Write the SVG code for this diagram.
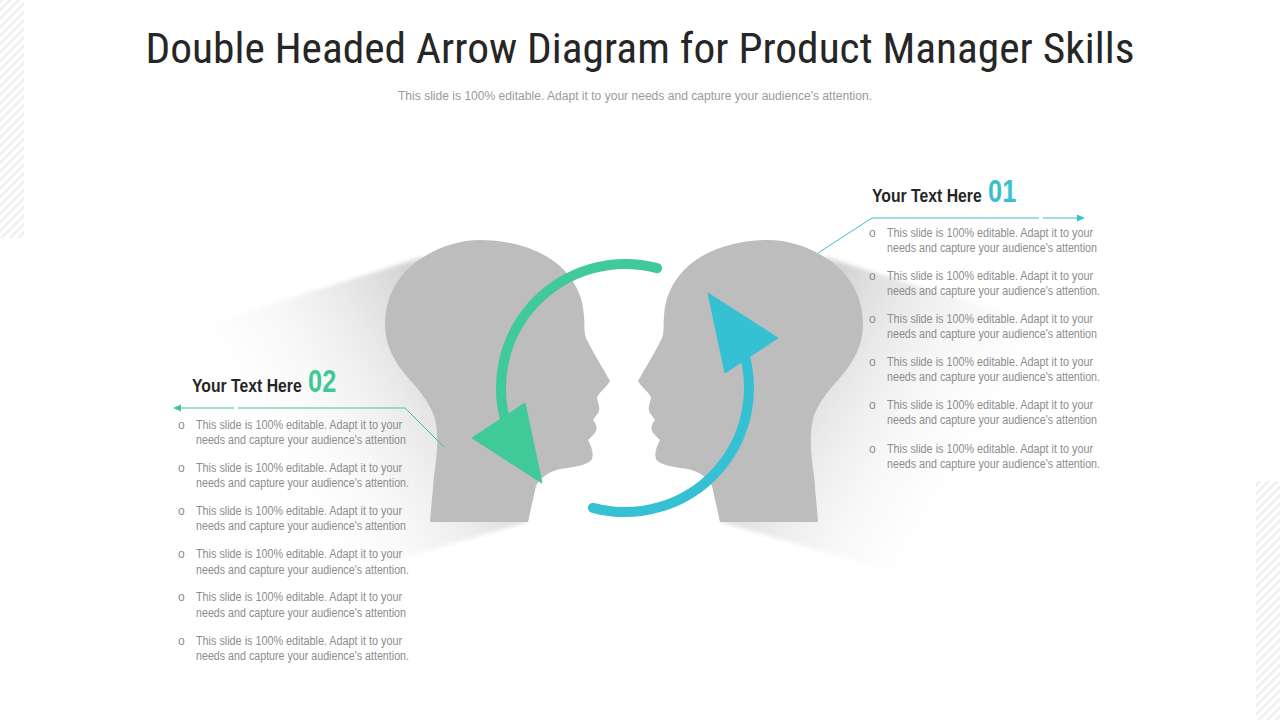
<svg xmlns="http://www.w3.org/2000/svg" width="1280" height="720" viewBox="0 0 1280 720">
<defs>
<style>
.ttl{font-family:"Liberation Sans Narrow","Roboto Condensed","Liberation Sans",Arial,sans-serif;fill:#262626}
.sub{font-family:"Liberation Sans Narrow","Liberation Sans",Arial,sans-serif;fill:#9a9a9a;font-size:12.5px}
.hd{font-family:"Liberation Sans Narrow","Liberation Sans",Arial,sans-serif;font-weight:bold;fill:#262626;font-size:19px}
.num{font-family:"Liberation Sans Narrow","Liberation Sans",Arial,sans-serif;font-weight:bold;font-size:31px}
.bt{font-family:"Liberation Sans Narrow","Liberation Sans",Arial,sans-serif;fill:#8c8c8c;font-size:12px}
.head{fill:#bdbdbd}
.lead-b{stroke:#3dbfcf;stroke-width:1;fill:none}
.lead-g{stroke:#40c795;stroke-width:1;fill:none}
</style>
<pattern id="hatch" width="6" height="6" patternUnits="userSpaceOnUse" patternTransform="rotate(45)">
<rect width="6" height="6" fill="#ffffff"/>
<rect width="2.5" height="6" fill="#efefef"/>
</pattern>
<linearGradient id="shadowL" gradientUnits="userSpaceOnUse" x1="470" y1="380" x2="230" y2="520">
<stop offset="0" stop-color="#cfcfcf" stop-opacity="0.9"/>
<stop offset="0.35" stop-color="#e6e6e6" stop-opacity="0.55"/>
<stop offset="0.85" stop-color="#ffffff" stop-opacity="0"/>
</linearGradient>
<filter id="soft" x="-10%" y="-10%" width="120%" height="120%">
<feGaussianBlur stdDeviation="2"/>
</filter>
<path id="headShape" d="M480,240 C512,240 545,250 564,270 C578,285 583,300 584,316 C585,326 583,334 588,342 C595,356 603,368 610,381 C606,388 599,392 597,398 C598,404 601,408 598,413 L593,420 C597,425 598,430 594,434 L588,440 C591,446 594,452 592,459 C589,465 575,467 560,469 C548,472 540,478 536,486 L528,522 L430,522 L434,476 C437,456 439,436 435,419 C431,405 421,392 410,380 C394,362 385,345 385,325 C385,300 395,281 410,267 C428,251 455,240 480,240 Z"/>
<polygon id="shadowShape" points="423,257 175,334 345,575 527,522" fill="url(#shadowL)" filter="url(#soft)"/>
<g id="arrowShape">
<path d="M657.1,268.2 A124,124 0 0 0 508.5,430.4" fill="none" stroke-width="10" stroke-linecap="round"/>
<polygon points="472,438 525,403 542,483"/>
</g>
</defs>
<rect width="1280" height="720" fill="#ffffff"/>
<rect x="0" y="0" width="24" height="238" fill="url(#hatch)"/>
<rect x="1256" y="481" width="24" height="239" fill="url(#hatch)"/>

<text class="ttl" x="640" y="63" font-size="42" text-anchor="middle" textLength="989" lengthAdjust="spacingAndGlyphs">Double Headed Arrow Diagram for Product Manager Skills</text>
<text class="sub" x="635" y="100" text-anchor="middle" textLength="474" lengthAdjust="spacingAndGlyphs">This slide is 100% editable. Adapt it to your needs and capture your audience's attention.</text>

<g id="shadows">
<use href="#shadowShape"/>
<use href="#shadowShape" transform="translate(1248,0) scale(-1,1)"/>
</g>

<g id="node-head-left">
<use href="#headShape" class="head"/>
</g>
<g id="node-head-right">
<use href="#headShape" class="head" transform="translate(1248,0) scale(-1,1)"/>
</g>

<g id="node-arrow-green" fill="#40c999" stroke="#40c999">
<use href="#arrowShape"/>
</g>
<g id="node-arrow-blue" fill="#35c0d4" stroke="#35c0d4">
<use href="#arrowShape" transform="rotate(180 625 388)"/>
</g>

<g id="connectors">
<polyline class="lead-b" points="818,253 872,218 1039,218"/>
<line class="lead-b" x1="1043" y1="218" x2="1077" y2="218"/>
<polygon points="1077,214.5 1085,218 1077,221.5" fill="#3dbfcf"/>
<polyline class="lead-g" points="444,447 405,408 238,408"/>
<line class="lead-g" x1="234" y1="408" x2="180" y2="408"/>
<polygon points="181,404.5 173,408 181,411.5" fill="#40c795"/>
</g>

<g id="node-text-01">
<text class="hd" transform="translate(872,202) scale(0.83,1)" x="0" y="0">Your Text Here</text>
<text class="num" transform="translate(988,202) scale(0.82,1)" x="0" y="0" fill="#3bbfd0">01</text>
<g class="bt">
<text x="869" y="237">o</text><text x="887" y="237" textLength="206" lengthAdjust="spacingAndGlyphs">This slide is 100% editable.  Adapt it to your</text><text x="887" y="251.5" textLength="210" lengthAdjust="spacingAndGlyphs">needs and capture your audience's attention</text>
<text x="869" y="280">o</text><text x="887" y="280" textLength="206" lengthAdjust="spacingAndGlyphs">This slide is 100% editable.  Adapt it to your</text><text x="887" y="294.5" textLength="213" lengthAdjust="spacingAndGlyphs">needs and capture your audience's attention.</text>
<text x="869" y="323">o</text><text x="887" y="323" textLength="206" lengthAdjust="spacingAndGlyphs">This slide is 100% editable.  Adapt it to your</text><text x="887" y="337.5" textLength="210" lengthAdjust="spacingAndGlyphs">needs and capture your audience's attention</text>
<text x="869" y="366">o</text><text x="887" y="366" textLength="206" lengthAdjust="spacingAndGlyphs">This slide is 100% editable.  Adapt it to your</text><text x="887" y="380.5" textLength="213" lengthAdjust="spacingAndGlyphs">needs and capture your audience's attention.</text>
<text x="869" y="409">o</text><text x="887" y="409" textLength="206" lengthAdjust="spacingAndGlyphs">This slide is 100% editable.  Adapt it to your</text><text x="887" y="423.5" textLength="210" lengthAdjust="spacingAndGlyphs">needs and capture your audience's attention</text>
<text x="869" y="453">o</text><text x="887" y="453" textLength="206" lengthAdjust="spacingAndGlyphs">This slide is 100% editable.  Adapt it to your</text><text x="887" y="467.5" textLength="213" lengthAdjust="spacingAndGlyphs">needs and capture your audience's attention.</text>
</g>
</g>

<g id="node-text-02">
<text class="hd" transform="translate(192,392) scale(0.83,1)" x="0" y="0">Your Text Here</text>
<text class="num" transform="translate(308,392) scale(0.82,1)" x="0" y="0" fill="#3ec994">02</text>
<g class="bt">
<text x="178" y="429">o</text><text x="196" y="429" textLength="206" lengthAdjust="spacingAndGlyphs">This slide is 100% editable.  Adapt it to your</text><text x="196" y="443.5" textLength="210" lengthAdjust="spacingAndGlyphs">needs and capture your audience's attention</text>
<text x="178" y="472">o</text><text x="196" y="472" textLength="206" lengthAdjust="spacingAndGlyphs">This slide is 100% editable.  Adapt it to your</text><text x="196" y="486.5" textLength="213" lengthAdjust="spacingAndGlyphs">needs and capture your audience's attention.</text>
<text x="178" y="515">o</text><text x="196" y="515" textLength="206" lengthAdjust="spacingAndGlyphs">This slide is 100% editable.  Adapt it to your</text><text x="196" y="529.5" textLength="210" lengthAdjust="spacingAndGlyphs">needs and capture your audience's attention</text>
<text x="178" y="558">o</text><text x="196" y="558" textLength="206" lengthAdjust="spacingAndGlyphs">This slide is 100% editable.  Adapt it to your</text><text x="196" y="573.5" textLength="213" lengthAdjust="spacingAndGlyphs">needs and capture your audience's attention.</text>
<text x="178" y="601">o</text><text x="196" y="601" textLength="206" lengthAdjust="spacingAndGlyphs">This slide is 100% editable.  Adapt it to your</text><text x="196" y="616.5" textLength="210" lengthAdjust="spacingAndGlyphs">needs and capture your audience's attention</text>
<text x="178" y="645">o</text><text x="196" y="645" textLength="206" lengthAdjust="spacingAndGlyphs">This slide is 100% editable.  Adapt it to your</text><text x="196" y="659.5" textLength="213" lengthAdjust="spacingAndGlyphs">needs and capture your audience's attention.</text>
</g>
</g>
</svg>
